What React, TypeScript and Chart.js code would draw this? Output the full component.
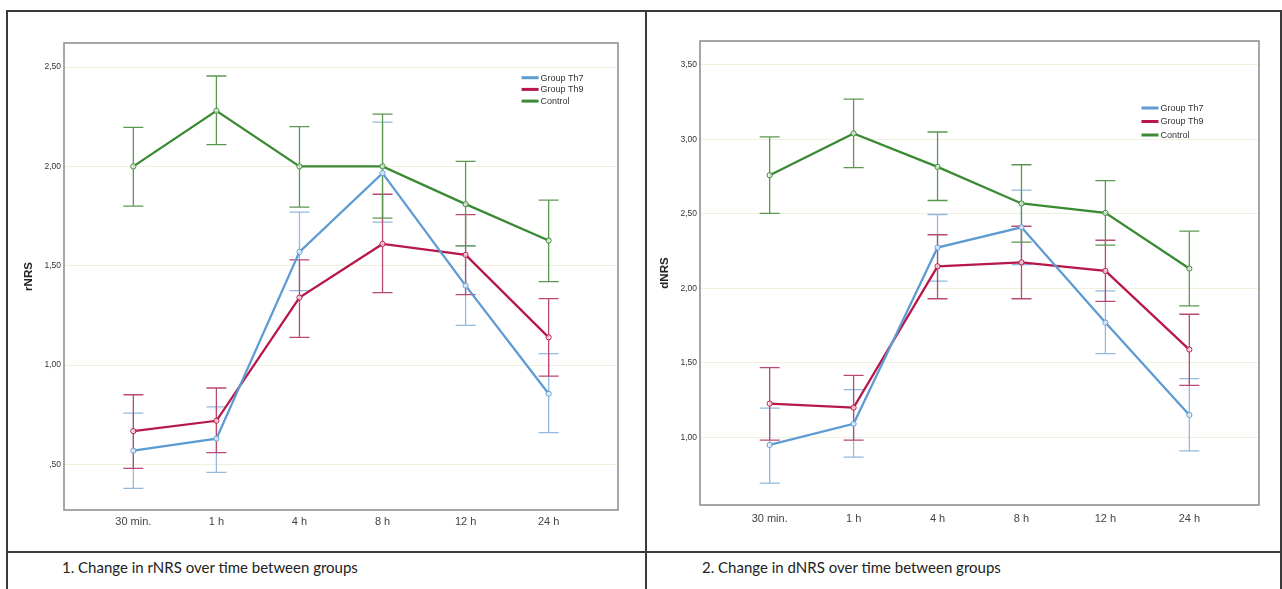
import React, { useEffect, useRef } from "react";
import { Chart, registerables } from "chart.js";
Chart.register(...registerables);

const categories = ["30 min.", "1 h", "4 h", "8 h", "12 h", "24 h"];
const seriesNames = ["Group Th7", "Group Th9", "Control"];

const rnrsTh7 = [0.57, 0.63, 1.57, 1.966, 1.4, 0.856];
const rnrsTh7Low = [0.38, 0.46, 1.375, 1.72, 1.2, 0.66];
const rnrsTh7High = [0.758, 0.79, 1.77, 2.223, 1.6, 1.058];
const rnrsTh9 = [0.668, 0.72, 1.34, 1.61, 1.555, 1.14];
const rnrsTh9Low = [0.48, 0.56, 1.14, 1.365, 1.355, 0.945];
const rnrsTh9High = [0.851, 0.885, 1.53, 1.86, 1.757, 1.335];
const rnrsControl = [2.0, 2.28, 2.0, 2.0, 1.81, 1.627];
const rnrsControlLow = [1.8, 2.11, 1.795, 1.74, 1.6, 1.42];
const rnrsControlHigh = [2.196, 2.455, 2.2, 2.263, 2.025, 1.83];

const dnrsTh7 = [0.948, 1.09, 2.274, 2.41, 1.77, 1.15];
const dnrsTh7Low = [0.692, 0.867, 2.048, 2.16, 1.562, 0.908];
const dnrsTh7High = [1.196, 1.32, 2.496, 2.66, 1.983, 1.394];
const dnrsTh9 = [1.226, 1.199, 2.148, 2.174, 2.117, 1.589];
const dnrsTh9Low = [0.98, 0.98, 1.93, 1.93, 1.913, 1.349];
const dnrsTh9High = [1.468, 1.416, 2.36, 2.417, 2.323, 1.826];
const dnrsControl = [2.76, 3.04, 2.816, 2.57, 2.507, 2.133];
const dnrsControlLow = [2.503, 2.81, 2.59, 2.31, 2.29, 1.882];
const dnrsControlHigh = [3.017, 3.27, 3.05, 2.83, 2.724, 2.384];

const rnrsTicks = [0.5, 1.0, 1.5, 2.0, 2.5];
const dnrsTicks = [1.0, 1.5, 2.0, 2.5, 3.0, 3.5];

const lineColors = ["#5e9bd3", "#b8174b", "#3a8a33"];
const errColors = ["#93b9dc", "#b84a72", "#5c9752"];

const FONT = "'Liberation Sans', Arial, sans-serif";

function fmtTick(v: number) {
  let s = Number(v).toFixed(2).replace(".", ",");
  if (s.startsWith("0,")) s = s.slice(1);
  return s;
}

const errorBarPlugin = {
  id: "errbars",
  beforeDatasetsDraw(chart: any) {
    const ctx = chart.ctx;
    const xs = chart.scales.x;
    const ys = chart.scales.y;
    chart.data.datasets.forEach((ds: any) => {
      ctx.save();
      ctx.strokeStyle = ds.errColor;
      ctx.lineWidth = 1.3;
      ds.errLow.forEach((lo: number, j: number) => {
        const hi = ds.errHigh[j];
        const x = xs.getPixelForValue(j);
        const y1 = ys.getPixelForValue(lo);
        const y2 = ys.getPixelForValue(hi);
        ctx.beginPath();
        ctx.moveTo(x, y1);
        ctx.lineTo(x, y2);
        ctx.moveTo(x - 10, y1);
        ctx.lineTo(x + 10, y1);
        ctx.moveTo(x - 10, y2);
        ctx.lineTo(x + 10, y2);
        ctx.stroke();
      });
      ctx.restore();
    });
  },
};

const decorPlugin = {
  id: "decor",
  afterDraw(chart: any) {
    const ctx = chart.ctx;
    const a = chart.chartArea;
    const o = chart.options.plugins.decor;
    ctx.save();
    ctx.strokeStyle = "#8a8a8a";
    ctx.lineWidth = 1.5;
    ctx.strokeRect(a.left, a.top, a.right - a.left, a.bottom - a.top);
    ctx.fillStyle = "#222";
    ctx.font = "bold 11.5px " + FONT;
    ctx.textAlign = "center";
    ctx.textBaseline = "middle";
    ctx.translate(a.left - 35, (a.top + a.bottom) / 2);
    ctx.rotate(-Math.PI / 2);
    ctx.fillText(o.title, 0, 0);
    ctx.restore();
    ctx.save();
    ctx.font = "9px " + FONT;
    ctx.textBaseline = "middle";
    ctx.textAlign = "left";
    chart.data.datasets.forEach((ds: any, i: number) => {
      const y = a.top + o.legendTop + i * o.legendGap;
      const x0 = a.right - o.legendRight;
      ctx.strokeStyle = ds.borderColor;
      ctx.lineWidth = 3;
      ctx.beginPath();
      ctx.moveTo(x0, y);
      ctx.lineTo(x0 + 17, y);
      ctx.stroke();
      ctx.fillStyle = "#333";
      ctx.fillText(ds.label, x0 + 19, y + 0.5);
    });
    ctx.restore();
  },
};

type PanelProps = {
  left: number;
  top: number;
  width: number;
  height: number;
  yWidth: number;
  xHeight: number;
  padTop: number;
  padRight: number;
  yMin: number;
  yMax: number;
  xPad: number;
  ticks: number[];
  means: number[][];
  lows: number[][];
  highs: number[][];
  title: string;
  legendTop: number;
  legendGap: number;
  legendRight: number;
  xLabelPad: number;
};

function Panel(p: PanelProps) {
  const ref = useRef<HTMLCanvasElement | null>(null);
  useEffect(() => {
    if (!ref.current) return;
    const chart = new Chart(ref.current, {
      type: "line",
      data: {
        datasets: seriesNames.map((name, i) => ({
          label: name,
          data: p.means[i].map((v, j) => ({ x: j, y: v })),
          borderColor: lineColors[i],
          backgroundColor: lineColors[i],
          borderWidth: 2.3,
          pointRadius: 2.6,
          pointBorderWidth: 1,
          pointBackgroundColor: "rgba(255,255,255,0.7)",
          pointBorderColor: lineColors[i],
          tension: 0,
          errLow: p.lows[i],
          errHigh: p.highs[i],
          errColor: errColors[i],
        })) as any,
      },
      options: {
        responsive: false,
        animation: false,
        devicePixelRatio: 1,
        layout: { padding: { top: p.padTop, right: p.padRight, left: 0, bottom: 0 } },
        plugins: {
          legend: { display: false },
          tooltip: { enabled: false },
          decor: {
            title: p.title,
            legendTop: p.legendTop,
            legendGap: p.legendGap,
            legendRight: p.legendRight,
          },
        } as any,
        scales: {
          x: {
            type: "linear",
            min: -p.xPad,
            max: categories.length - 1 + p.xPad,
            grid: { display: false, drawTicks: false },
            border: { display: false },
            afterBuildTicks: (s: any) => {
              s.ticks = categories.map((_, i) => ({ value: i }));
            },
            afterFit: (s: any) => {
              s.height = p.xHeight;
            },
            ticks: {
              padding: p.xLabelPad,
              color: "#444",
              font: { family: FONT, size: 11 },
              maxRotation: 0,
              autoSkip: false,
              callback: (v: any) => categories[Math.round(Number(v))] ?? "",
            },
          },
          y: {
            type: "linear",
            min: p.yMin,
            max: p.yMax,
            grid: { color: "rgba(225,228,195,0.55)", drawTicks: false, lineWidth: 1 },
            border: { display: false },
            afterBuildTicks: (s: any) => {
              s.ticks = p.ticks.map((v) => ({ value: v }));
            },
            afterFit: (s: any) => {
              s.width = p.yWidth;
            },
            ticks: {
              padding: 3,
              color: "#333",
              font: { family: FONT, size: 8.5 },
              callback: (v: any) => fmtTick(Number(v)),
            },
          },
        },
      } as any,
      plugins: [errorBarPlugin, decorPlugin],
    });
    return () => chart.destroy();
  }, []);
  return (
    <canvas
      ref={ref}
      width={p.width}
      height={p.height}
      style={{ position: "absolute", left: p.left, top: p.top, width: p.width, height: p.height }}
    />
  );
}

const lineStyle = (l: number, t: number, w: number, h: number): React.CSSProperties => ({
  position: "absolute",
  left: l,
  top: t,
  width: w,
  height: h,
  background: "#3a3a3a",
});

const captionStyle = (l: number): React.CSSProperties => ({
  position: "absolute",
  left: l,
  top: 558,
  fontFamily: "Lato, 'Liberation Sans', sans-serif",
  fontSize: 15,
  lineHeight: "18px",
  color: "#222",
  whiteSpace: "nowrap",
});

export default function App() {
  return (
    <div
      style={{
        position: "absolute",
        left: 0,
        top: 0,
        width: 1282,
        height: 589,
        background: "#fff",
        overflow: "hidden",
      }}
    >
      <Panel
        left={10}
        top={12}
        width={632}
        height={530}
        yWidth={54}
        xHeight={32}
        padTop={31}
        padRight={24}
        yMin={0.271}
        yMax={2.621}
        xPad={0.835}
        ticks={rnrsTicks}
        means={[rnrsTh7, rnrsTh9, rnrsControl]}
        lows={[rnrsTh7Low, rnrsTh9Low, rnrsControlLow]}
        highs={[rnrsTh7High, rnrsTh9High, rnrsControlHigh]}
        title="rNRS"
        legendTop={34.7}
        legendGap={11.7}
        legendRight={96.4}
        xLabelPad={5.5}
      />
      <Panel
        left={650}
        top={12}
        width={628}
        height={530}
        yWidth={50}
        xHeight={37}
        padTop={29}
        padRight={19}
        yMin={0.545}
        yMax={3.661}
        xPad={0.83}
        ticks={dnrsTicks}
        means={[dnrsTh7, dnrsTh9, dnrsControl]}
        lows={[dnrsTh7Low, dnrsTh9Low, dnrsControlLow]}
        highs={[dnrsTh7High, dnrsTh9High, dnrsControlHigh]}
        title="dNRS"
        legendTop={67}
        legendGap={13.5}
        legendRight={117.5}
        xLabelPad={7.5}
      />
      <div style={lineStyle(6, 10, 1276, 2)} />
      <div style={lineStyle(6, 10, 2, 579)} />
      <div style={lineStyle(645, 10, 2, 579)} />
      <div style={lineStyle(1280, 10, 2, 579)} />
      <div style={lineStyle(6, 551, 1276, 2)} />
      <div style={captionStyle(62)}>1. Change in rNRS over time between groups</div>
      <div style={captionStyle(702)}>2. Change in dNRS over time between groups</div>
    </div>
  );
}
